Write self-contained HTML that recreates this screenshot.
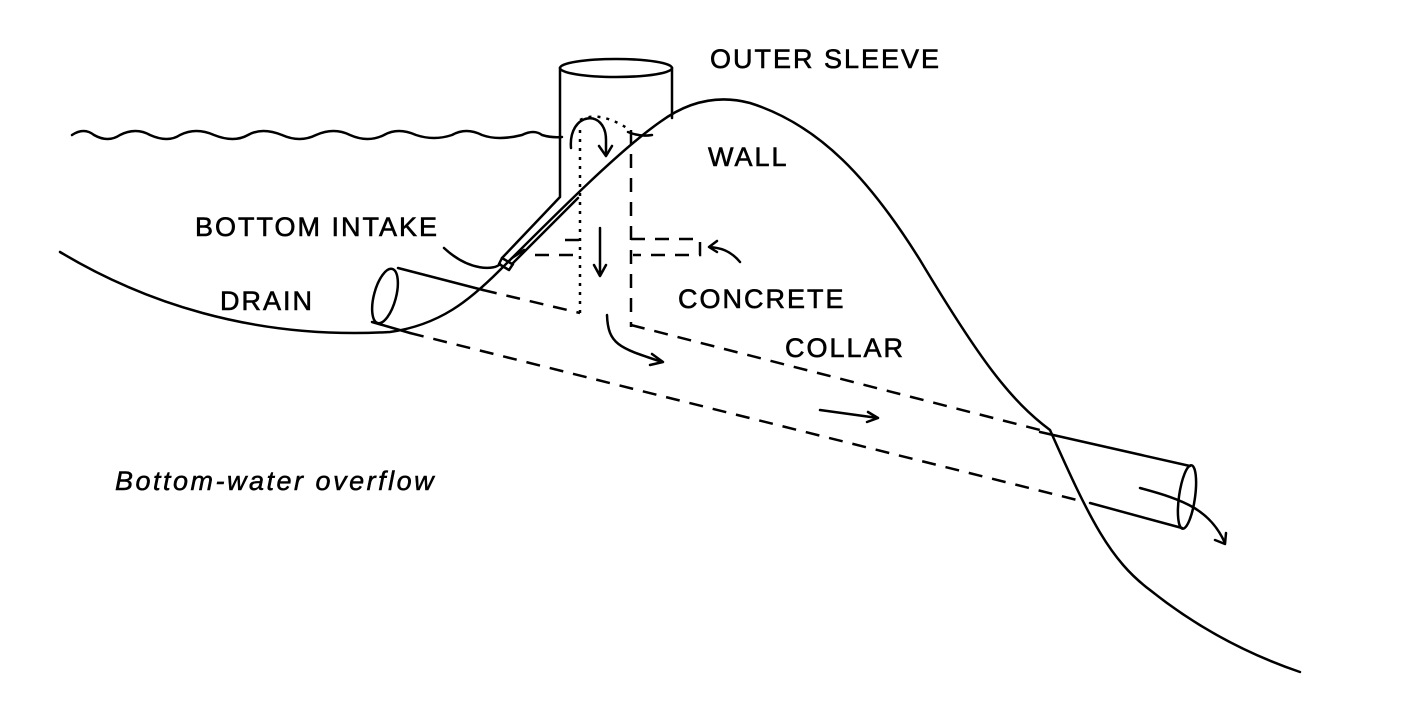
<!DOCTYPE html>
<html><head><style>
body{margin:0;background:#fff;}
svg{display:block;}
text{font-family:"Liberation Sans",sans-serif;fill:#000;}
</style></head><body>
<svg width="1408" height="722" viewBox="0 0 1408 722" xmlns="http://www.w3.org/2000/svg">
<g fill="none" stroke="#000" stroke-width="2.5" stroke-linecap="round" stroke-linejoin="round">
<!-- water -->
<path d="M72,135 q12,-8 22,0 q14,8 26,0 q16,-8 30,0 q18,8 30,0 q16,-8 34,0 q20,8 34,0 q14,-8 34,0 q18,8 34,0 q18,-8 34,0 q18,8 34,0 q14,-8 32,0 q18,6 36,0 q14,-8 30,0 q16,6 40,0 q12,-6 20,0 q10,3 20,2"/>
<path d="M628,132 q12,5 24,3"/>
<!-- pond bottom + wall -->
<path d="M60,252 C140,300 250,340 390,332 C440,325 470,300 500,270 C560,210 620,150 660,122 C690,100 720,95 750,103 C820,125 870,180 920,260 C980,360 1010,400 1050,430 C1090,520 1110,560 1150,590 C1200,630 1250,655 1300,672"/>
<!-- sleeve -->
<ellipse cx="616" cy="68" rx="56" ry="9"/>
<path d="M560,68 V197 L502,258 L512,264 L578,198"/>
<path d="M672,68 V118"/>
<path d="M502,258 l-3,6 l10,6 l4,-6"/>
<!-- loop arrow -->
<path d="M571,148 C568,112 606,108 606,140 V155"/>
<path d="M599,146 l7,10 l6,-10"/>
<!-- drain pipe -->
<ellipse cx="385" cy="296" rx="11" ry="28" transform="rotate(15 385 296)"/>
<path d="M398,268 L483,290"/>
<path d="M372,322 L410,333"/>
<!-- outlet pipe -->
<ellipse cx="1187" cy="497" rx="8" ry="32" transform="rotate(8 1187 497)"/>
<path d="M1040,432 L1190,466"/>
<path d="M1090,503 L1182,528"/>
<!-- arrows -->
<path d="M600,228 V275 M594,265 l6,11 l6,-11"/>
<path d="M607,315 C608,345 620,348 662,362 M652,354 l11,8 l-13,3"/>
<path d="M820,410 L878,418 M868,412 l10,6 l-11,4"/>
<path d="M1140,488 C1185,500 1210,510 1225,543 M1215,540 l10,4 l1,-11"/>
<path d="M444,248 C470,272 495,270 500,264"/>
<path d="M740,262 C730,250 720,248 710,247 M717,241 l-8,6 l8,5"/>
<path d="M512,258 l12,-8"/>
</g>
<g fill="none" stroke="#000" stroke-width="2.5" stroke-dasharray="14,10">
<path d="M483,290 L580,313"/>
<path d="M410,333 L1085,502"/>
<path d="M631,325 L1040,430"/>
<path d="M631,239 H700 V255 H633"/>
<path d="M565,240 H580 M535,255 H580"/>
<path d="M631,130 V327"/>
</g>
<g fill="none" stroke="#000" stroke-width="2.5" stroke-dasharray="3,6">
<path d="M580,130 V313"/>
<path d="M580,120 q20,-10 50,10"/>
</g>
<g font-size="27" letter-spacing="2" stroke="#000" stroke-width="0.6">
<text x="710" y="68">OUTER SLEEVE</text>
<text x="708" y="166">WALL</text>
<text x="195" y="236">BOTTOM INTAKE</text>
<text x="220" y="310">DRAIN</text>
<text x="678" y="308">CONCRETE</text>
<text x="785" y="357">COLLAR</text>
</g>
<text x="115" y="490" font-size="27" letter-spacing="2.5" font-style="italic" font-family="Liberation Serif" stroke="#000" stroke-width="0.5">Bottom-water overflow</text>
</svg>
</body></html>
